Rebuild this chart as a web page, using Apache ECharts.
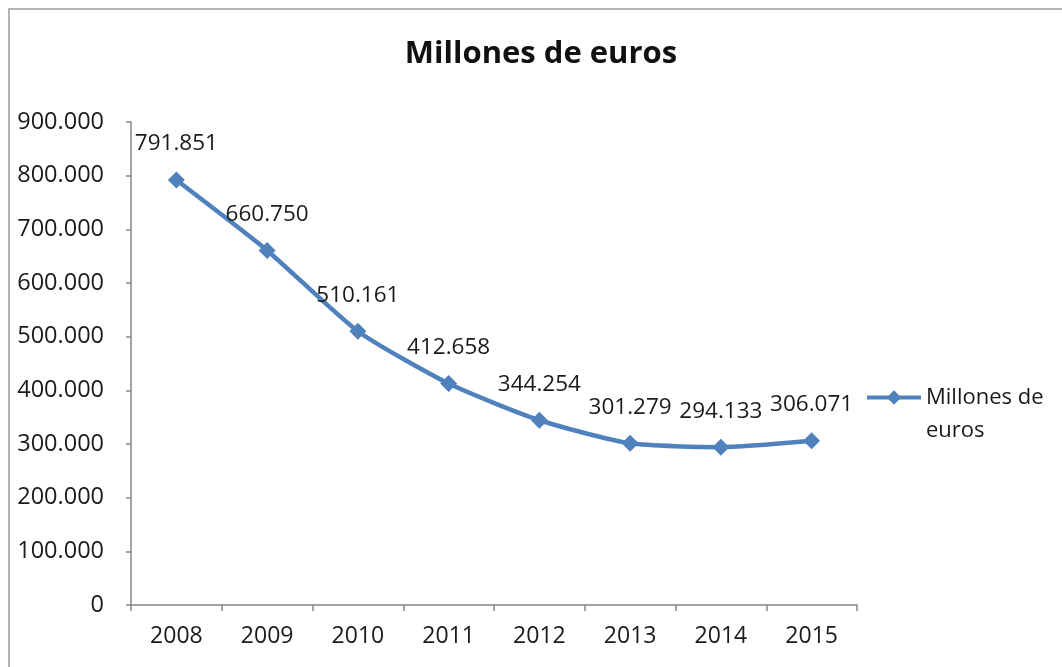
<!DOCTYPE html>
<html>
<head>
<meta charset="utf-8">
<script src="https://cdn.jsdelivr.net/npm/echarts@6/dist/echarts.min.js"></script>
<style>
  html, body { margin: 0; padding: 0; background: #fff; }
  #wrap { position: relative; width: 1062px; height: 667px; overflow: hidden; }
  #main { position: absolute; left: 0; top: 0; width: 1062px; height: 667px; }
  #frame {
    position: absolute; left: 8px; top: 8px; width: 1100px; height: 700px;
    border-left: 2px solid #b3b3b3; border-top: 2px solid #b3b3b3;
    pointer-events: none;
  }
</style>
</head>
<body>
<div id="wrap">
  <div id="main"></div>
  <div id="frame"></div>
</div>
<script>
// datos
var years = ['2008', '2009', '2010', '2011', '2012', '2013', '2014', '2015'];
var millones = [791851, 660750, 510161, 412658, 344254, 301279, 294133, 306071];
var serieName = 'Millones de euros';

var font = '"Open Sans", "Liberation Sans", sans-serif';

// 900000 -> "900.000"
function miles(v) {
  return String(Math.round(v)).replace(/\B(?=(\d{3})+(?!\d))/g, '.');
}

var myChart = echarts.init(document.getElementById('main'));
myChart.setOption({
  animation: false,
  title: {
    text: serieName,
    left: 536,
    textAlign: 'center',
    top: 34,
    textStyle: {
      fontFamily: font,
      fontSize: 31,
      fontWeight: 'bold',
      color: '#111'
    }
  },
  legend: {
    data: [serieName],
    left: 860,
    top: 343,
    itemWidth: 54,
    itemHeight: 18,
    itemGap: 5,
    // linea en blanco arriba para que el icono quede a la altura de la 1a linea
    formatter: function () { return ' \nMillones de\neuros'; },
    lineStyle: { width: 4 },
    textStyle: {
      fontFamily: font,
      fontSize: 22,
      lineHeight: 33,
      color: '#1a1a1a'
    }
  },
  grid: {
    left: 131,
    right: 205,
    top: 122,
    bottom: 62
  },
  xAxis: {
    type: 'category',
    data: years,
    boundaryGap: true,
    axisLine: { lineStyle: { color: '#868686', width: 1.5 } },
    axisTick: { show: true, alignWithLabel: false, length: 6, lineStyle: { color: '#868686', width: 1.5 } },
    axisLabel: {
      margin: 20,
      fontFamily: font,
      fontSize: 23,
      color: '#1a1a1a'
    }
  },
  yAxis: {
    type: 'value',
    min: 0,
    max: 900000,
    interval: 100000,
    axisLine: { show: true, lineStyle: { color: '#868686', width: 1.5 } },
    axisTick: { show: true, length: 5, lineStyle: { color: '#868686', width: 1.5 } },
    splitLine: { show: false },
    axisLabel: {
      margin: 27,
      fontFamily: font,
      fontSize: 23.5,
      color: '#1a1a1a',
      formatter: miles
    }
  },
  series: [{
    name: serieName,
    type: 'line',
    data: millones,
    smooth: 0.2,
    symbol: 'diamond',
    symbolSize: 17,
    lineStyle: { color: '#4f81bd', width: 4.5 },
    itemStyle: { color: '#4f81bd' },
    label: {
      show: true,
      position: 'top',
      distance: 16,
      fontFamily: font,
      fontSize: 22.5,
      color: '#1a1a1a',
      formatter: function (p) { return miles(p.value); }
    }
  }]
});
</script>
</body>
</html>
